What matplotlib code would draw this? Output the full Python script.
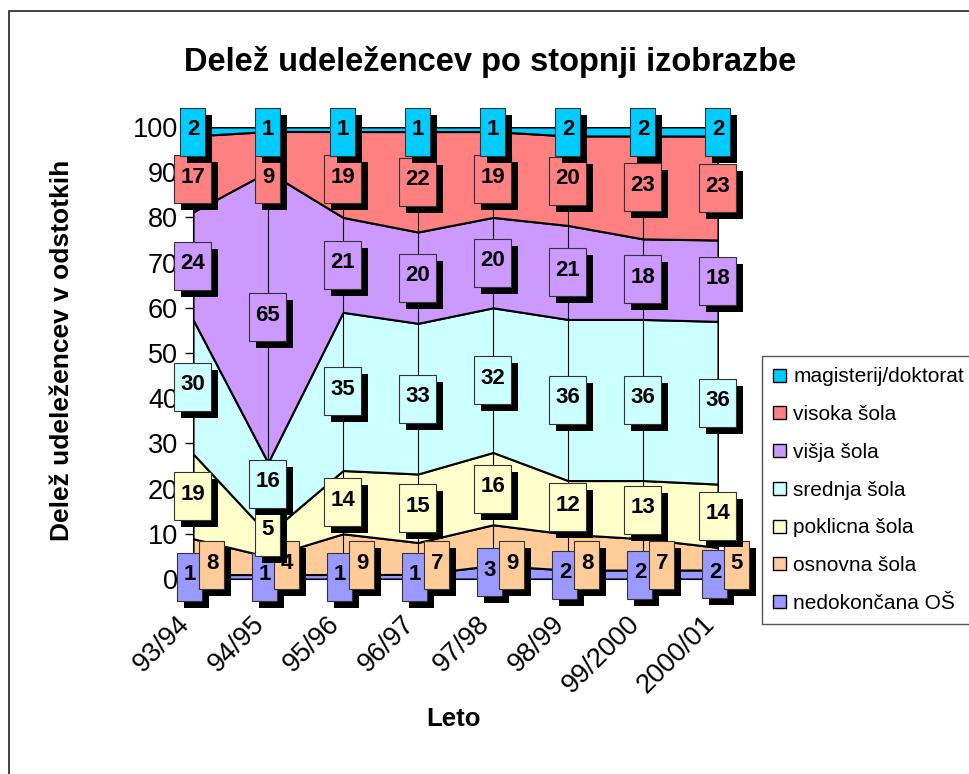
import numpy as np
import matplotlib
matplotlib.use('Agg')
import matplotlib.pyplot as plt
import matplotlib.transforms as mtransforms
from matplotlib.patches import Rectangle, Patch

plt.rcParams['font.family'] = ['Liberation Sans', 'DejaVu Sans']

# data (delež v %, po letih)
years = ['93/94', '94/95', '95/96', '96/97', '97/98', '98/99', '99/2000', '2000/01']
series = ['nedokončana OŠ', 'osnovna šola', 'poklicna šola', 'srednja šola',
          'višja šola', 'visoka šola', 'magisterij/doktorat']
nedokoncana = [1, 1, 1, 1, 3, 2, 2, 2]
osnovna = [8, 4, 9, 7, 9, 8, 7, 5]
poklicna = [19, 5, 14, 15, 16, 12, 13, 14]
srednja = [30, 16, 35, 33, 32, 36, 36, 36]
visja = [24, 65, 21, 20, 20, 21, 18, 18]
visoka = [17, 9, 19, 22, 19, 20, 23, 23]
magisterij = [2, 1, 1, 1, 1, 2, 2, 2]
colors = ['#9999FF', '#FFCC99', '#FFFFCC', '#CCFFFF', '#CC99FF', '#FF8080', '#00CCFF']

vals = np.array([nedokoncana, osnovna, poklicna, srednja, visja, visoka, magisterij], float)
shares = vals / vals.sum(axis=0) * 100
top = np.cumsum(shares, axis=0)
bottom = top - shares
x = np.arange(len(years))

fig = plt.figure(figsize=(9.7, 7.74), dpi=100)
ax = fig.add_axes([193/970, 1 - 579/774, 525/970, 452/774])

for i in range(len(series)):
    ax.fill_between(x, bottom[i], top[i], facecolor=colors[i], edgecolor='black',
                    lw=1.5, zorder=2)

# drop lines
ax.vlines(x, 0, 100, color='black', lw=0.8, zorder=3)

ax.set_xlim(0, len(years) - 1)
ax.set_ylim(0, 100)


def box_label(xd, yd, text, color, z, dx=0):
    # label box with black shadow, sized in pixels (dpi 100)
    w = (13 + 12 * len(text)) / 100
    h = 0.48
    tr = fig.dpi_scale_trans + mtransforms.ScaledTranslation(xd, yd, ax.transData)
    cx = dx / 100
    ax.add_patch(Rectangle((cx - w/2 + 0.07, -h/2 - 0.07), w, h, transform=tr,
                           facecolor='black', edgecolor='none', clip_on=False, zorder=z))
    ax.add_patch(Rectangle((cx - w/2, -h/2), w, h, transform=tr, facecolor=color,
                           edgecolor='#333333', lw=0.8, clip_on=False, zorder=z + 0.1))
    ax.text(cx, 0.02, text, transform=tr, ha='center', va='center', fontsize=16,
            fontweight='bold', clip_on=False, zorder=z + 0.2)


sep = 10.6
z = 10
for j in range(len(x)):
    ys = (bottom[:, j] + top[:, j]) / 2
    ys[6] = min(ys[6], 99)
    ys[1] = 3
    ys[2] = max(ys[2], ys[1] + 7.5)
    for i in (3, 4):
        ys[i] = max(ys[i], ys[i - 1] + sep)
    ys[5] = min(ys[5], ys[6] - sep)
    for i in range(len(series)):
        dx = {0: -3, 1: 19}.get(i, 0)
        box_label(x[j], ys[i], str(int(vals[i, j])), colors[i], z, dx)
        z += 1

ax.set_xticks(x)
ax.set_xticklabels(years, rotation=45, ha='right', va='center',
                   rotation_mode='anchor', fontsize=19.5)
ax.tick_params(axis='x', length=0, pad=29.5)
shift = mtransforms.ScaledTranslation(-7/100, 0, fig.dpi_scale_trans)
for lab in ax.get_xticklabels():
    lab.set_transform(lab.get_transform() + shift)

ax.set_yticks(range(0, 101, 10))
ax.tick_params(axis='y', length=5.8, width=1, pad=5, labelsize=19.5, direction='out')
ax.spines['top'].set_visible(False)
ax.spines['right'].set_visible(False)
ax.set_facecolor('none')

fig.text(490/970, 1 - 62/774, 'Delež udeležencev po stopnji izobrazbe', ha='center',
         va='center', fontsize=23.5, fontweight='bold')
fig.text(62/970, 1 - 350/774, 'Delež udeležencev v odstotkih', ha='center', va='center',
         rotation=90, fontsize=19, fontweight='bold')
fig.text(454/970, 1 - 719/774, 'Leto', ha='center', va='center', fontsize=18.5,
         fontweight='bold')

handles = [Patch(facecolor=colors[i], edgecolor='black', label=series[i])
           for i in reversed(range(len(series)))]
leg = fig.legend(handles=handles, loc='upper left', bbox_to_anchor=(762/970, 1 - 356/774),
                 fontsize=15, frameon=True, fancybox=False, edgecolor='#555555',
                 framealpha=1, labelspacing=0.9, handlelength=0.6, handleheight=0.6,
                 handletextpad=0.35, borderpad=0.55, borderaxespad=0)

fig.add_artist(Rectangle((9/970, -0.01), 1.0, 1 - 11/774 + 0.01, transform=fig.transFigure,
                         fill=False, edgecolor='#222222', lw=1.2))

fig.savefig('out.png', dpi=100)
